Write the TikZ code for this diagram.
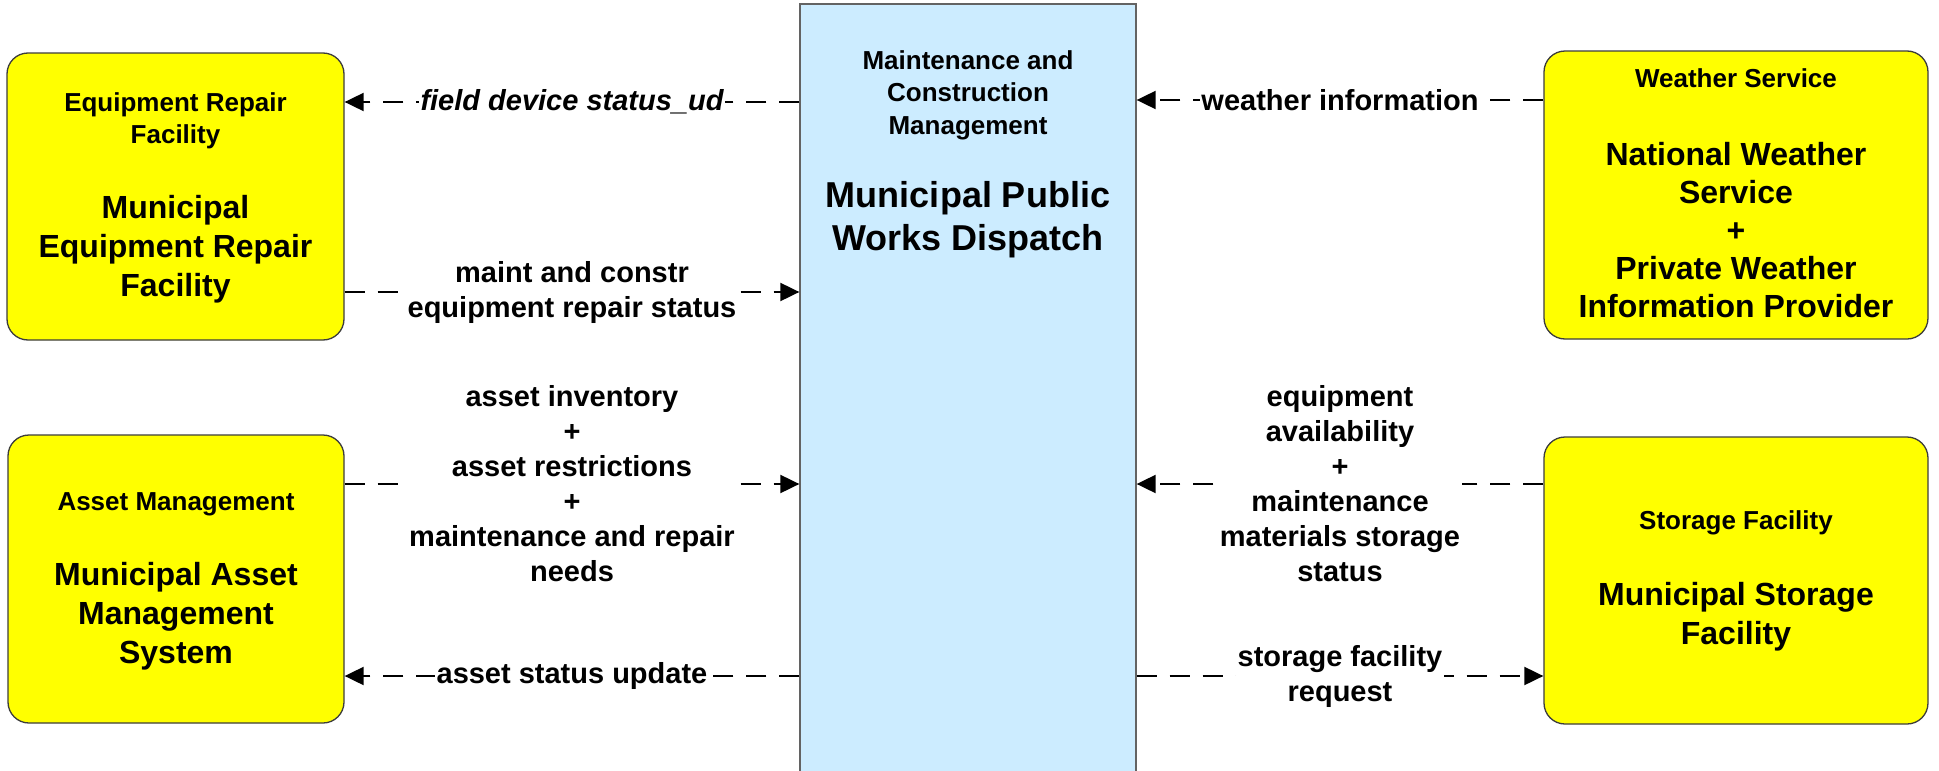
\documentclass[tikz,border=0pt]{standalone}
\usepackage{fontspec}
\setmainfont{Liberation Sans}
\usetikzlibrary{arrows.meta}
\definecolor{boxyellow}{RGB}{255,255,0}
\definecolor{dispblue}{RGB}{204,236,255}
\definecolor{edgegray}{RGB}{60,60,60}
\begin{document}
\begin{tikzpicture}[x=1pt,y=-1pt,
  sysbox/.style={draw=edgegray, line width=1.3pt, fill=boxyellow, rounded corners=21pt, inner sep=0pt},
  dispbox/.style={draw=edgegray!80, line width=1.3pt, fill=dispblue, inner sep=0pt},
  hdr/.style={font=\bfseries\fontsize{26}{32.5}\selectfont, align=center, inner sep=0pt},
  nm/.style={font=\bfseries\fontsize{32}{39}\selectfont, align=center, inner sep=0pt},
  lab/.style={font=\bfseries\fontsize{29}{35}\selectfont, align=center, fill=white, inner sep=1.5pt},
  flow/.style={draw=black, line width=2pt, dash pattern=on 20pt off 13pt, -{Triangle[length=19pt,width=18pt]}}]
\clip (0,0) rectangle (1939,771);
\fill[white] (0,0) rectangle (1939,771);

% boxes
\node[dispbox, minimum width=336pt, minimum height=790pt] (mpwd) at (968,399) {};
\node[sysbox, minimum width=337pt, minimum height=287pt] (erf) at (175.5,196.5) {};
\node[sysbox, minimum width=336pt, minimum height=288pt] (am) at (176,579) {};
\node[sysbox, minimum width=384pt, minimum height=288pt] (ws) at (1736,195) {};
\node[sysbox, minimum width=384pt, minimum height=287pt] (sf) at (1736,580.5) {};

% box texts
\node[hdr] (mpwd-h) at (968,95) {Maintenance and\\Construction\\Management};
\node[nm, font=\bfseries\fontsize{36}{43}\selectfont] (mpwd-n) at (968,220) {Municipal Public\\Works Dispatch};
\node[hdr] (erf-h) at (175.5,121) {Equipment Repair\\Facility};
\node[nm] (erf-n) at (175.5,249) {Municipal\\Equipment Repair\\Facility};
\node[hdr] (am-h) at (176,504) {Asset Management};
\node[nm] (am-n) at (176,616) {Municipal Asset\\Management\\System};
\node[hdr] (ws-h) at (1736,78) {Weather Service};
\node[nm, font=\bfseries\fontsize{32}{38}\selectfont] (ws-n) at (1736,230) {National Weather\\Service\\+\\Private Weather\\Information Provider};
\node[hdr] (sf-h) at (1736,523) {Storage Facility};
\node[nm] (sf-n) at (1736,617) {Municipal Storage\\Facility};

% flows
\draw[flow] (mpwd.west |- 0,102) -- node[lab, font=\bfseries\itshape\fontsize{29}{35}\selectfont] (l1) {field device status\_ud} (erf.east |- 0,102);
\draw[flow] (erf.east |- 0,292) -- node[lab] (l2) {maint and constr\\equipment repair status} (mpwd.west |- 0,292);
\draw[flow] (ws.west |- 0,100) -- node[lab] (l3) {weather information} (mpwd.east |- 0,100);
\draw[flow] (am.east |- 0,484) -- node[lab] (l4) {asset inventory\\+\\asset restrictions\\+\\maintenance and repair\\needs} (mpwd.west |- 0,484);
\draw[flow] (mpwd.west |- 0,676) -- node[lab] (l5) {asset status update} (am.east |- 0,676);
\draw[flow] (sf.west |- 0,484) -- node[lab] (l6) {equipment\\availability\\+\\maintenance\\materials storage\\status} (mpwd.east |- 0,484);
\draw[flow] (mpwd.east |- 0,676) -- node[lab] (l7) {storage facility\\request} (sf.west |- 0,676);
\end{tikzpicture}
\end{document}
